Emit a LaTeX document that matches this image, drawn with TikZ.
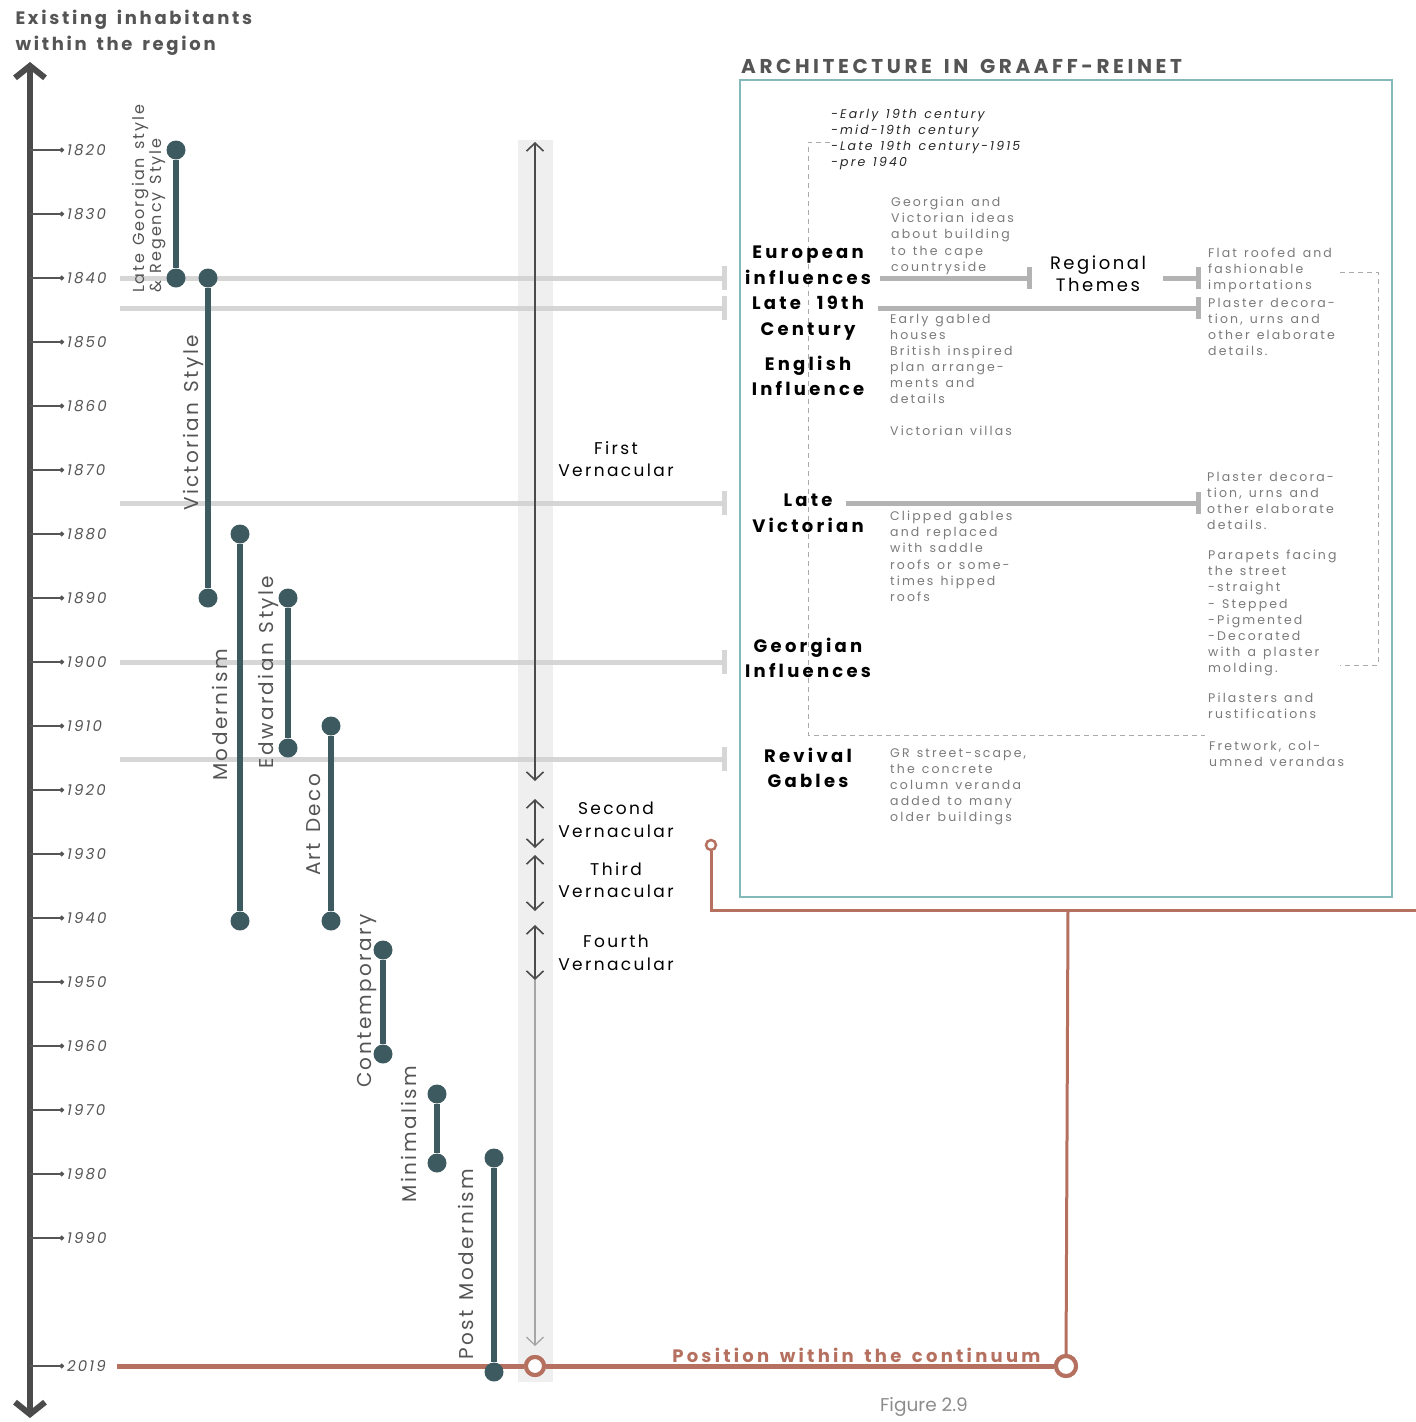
\documentclass[tikz,border=0pt]{standalone}
\usepackage{fontspec}
\setmainfont{Poppins}
\newfontfamily\spacedfont[LetterSpace=14,WordSpace=1.3]{Poppins}
\newfontfamily\notefont[LetterSpace=17,WordSpace=1.3]{Poppins}
\newfontfamily\headfont[LetterSpace=18,WordSpace=1.4]{Poppins}
\newfontfamily\stylefont[LetterSpace=12,WordSpace=1.3]{Poppins}
\newfontfamily\titlefont[LetterSpace=15,WordSpace=1.5]{Poppins}
\newfontfamily\widefont[LetterSpace=18,WordSpace=1.5]{Poppins}
\usetikzlibrary{arrows.meta}
\definecolor{axisgrey}{HTML}{4B4B4B}
\definecolor{labelgrey}{HTML}{555555}
\definecolor{notegrey}{HTML}{7A7A7A}
\definecolor{bandgrey}{HTML}{D2D2D2}
\definecolor{linkgrey}{HTML}{B3B3B3}
\definecolor{colgrey}{HTML}{EFEFEF}
\definecolor{dashgrey}{HTML}{AAAAAA}
\definecolor{styleteal}{HTML}{3E5A61}
\definecolor{brick}{HTML}{B5705F}
\definecolor{panelteal}{HTML}{84B9B9}
\tikzset{
  year/.style={anchor=west, inner sep=3pt, text=labelgrey, font=\spacedfont\itshape\fontsize{15}{18}\selectfont},
  tick/.style={line width=1.4pt, labelgrey, -{Circle[length=4.5pt]}},
  dot/.style={circle, fill=styleteal, minimum size=19pt, inner sep=0pt},
  span/.style={line width=5.5pt, styleteal},
  stylename/.style={rotate=90, text=labelgrey, font=\stylefont\fontsize{20}{17}\selectfont},
  band/.style={line width=5pt, bandgrey, -{Bar[width=24pt]}},
  era/.style={line width=1.6pt, axisgrey, {Straight Barb[length=8pt,width=17pt]}-{Straight Barb[length=8pt,width=17pt]}},
  vern/.style={align=center, font=\spacedfont\fontsize{17}{22.5}\selectfont},
  head/.style={align=center, font=\headfont\bfseries\fontsize{18}{25.5}\selectfont},
  note/.style={anchor=north west, inner sep=0pt, align=left, text=notegrey, font=\notefont\fontsize{12.5}{16.1}\selectfont},
  link/.style={line width=5pt, linkgrey, -{Bar[width=22pt]}},
  bracket/.style={dashgrey, line width=0.9pt, dash pattern=on 5pt off 4pt},
  ring/.style={circle, draw=brick, fill=white, line width=4pt, minimum size=18pt, inner sep=0pt},
  redline/.style={brick, line width=5pt}
}
\begin{document}
\begin{tikzpicture}[x=1pt,y=-1pt]
  \useasboundingbox (0,0) rectangle (1416,1422);
  \node[anchor=west, align=left, text=labelgrey, font=\titlefont\bfseries\fontsize{18}{26}\selectfont] (inhab) at (12,33) {Existing inhabitants\\within the region};
  \coordinate (axtop) at (30,62);
  \coordinate (axbot) at (30,1418);
  \draw[axisgrey, line width=6pt, {Straight Barb[length=12pt,width=30pt]}-{Straight Barb[length=12pt,width=30pt]}] (axbot) -- (axtop);
  \draw
    (64,150) node[year] (y1820){1820}
    (64,214) node[year] (y1830){1830}
    (64,278) node[year] (y1840){1840}
    (64,342) node[year] (y1850){1850}
    (64,406) node[year] (y1860){1860}
    (64,470) node[year] (y1870){1870}
    (64,534) node[year] (y1880){1880}
    (64,598) node[year] (y1890){1890}
    (64,662) node[year] (y1900){1900}
    (64,726) node[year] (y1910){1910}
    (64,790) node[year] (y1920){1920}
    (64,854) node[year] (y1930){1930}
    (64,918) node[year] (y1940){1940}
    (64,982) node[year] (y1950){1950}
    (64,1046) node[year] (y1960){1960}
    (64,1110) node[year] (y1970){1970}
    (64,1174) node[year] (y1980){1980}
    (64,1238) node[year] (y1990){1990}
    (64,1366) node[year] (y2019){2019};
  \begin{scope}[tick]
    \draw (axtop |- y1820.west) -- (y1820.west);
    \draw (axtop |- y1830.west) -- (y1830.west);
    \draw (axtop |- y1840.west) -- (y1840.west);
    \draw (axtop |- y1850.west) -- (y1850.west);
    \draw (axtop |- y1860.west) -- (y1860.west);
    \draw (axtop |- y1870.west) -- (y1870.west);
    \draw (axtop |- y1880.west) -- (y1880.west);
    \draw (axtop |- y1890.west) -- (y1890.west);
    \draw (axtop |- y1900.west) -- (y1900.west);
    \draw (axtop |- y1910.west) -- (y1910.west);
    \draw (axtop |- y1920.west) -- (y1920.west);
    \draw (axtop |- y1930.west) -- (y1930.west);
    \draw (axtop |- y1940.west) -- (y1940.west);
    \draw (axtop |- y1950.west) -- (y1950.west);
    \draw (axtop |- y1960.west) -- (y1960.west);
    \draw (axtop |- y1970.west) -- (y1970.west);
    \draw (axtop |- y1980.west) -- (y1980.west);
    \draw (axtop |- y1990.west) -- (y1990.west);
    \draw (axtop |- y2019.west) -- (y2019.west);
  \end{scope}
  \fill[colgrey] (518,140) rectangle (553,1382);
  \coordinate (b1a) at (120,278); \coordinate (b1b) at (727,278);
  \coordinate (b2a) at (120,308); \coordinate (b2b) at (727,308);
  \coordinate (b3a) at (120,503); \coordinate (b3b) at (727,503);
  \coordinate (b4a) at (120,662); \coordinate (b4b) at (727,662);
  \coordinate (b5a) at (120,759); \coordinate (b5b) at (727,759);
  \begin{scope}[band, opacity=0.9]
    \draw (b1a) -- (b1b);
    \draw (b2a) -- (b2b);
    \draw (b3a) -- (b3b);
    \draw (b4a) -- (b4b);
    \draw (b5a) -- (b5b);
  \end{scope}
  \coordinate (v1a) at (535,142); \coordinate (v1b) at (535,781);
  \coordinate (v2a) at (535,799); \coordinate (v2b) at (535,848);
  \coordinate (v3a) at (535,855); \coordinate (v3b) at (535,911);
  \coordinate (v4a) at (535,925); \coordinate (v4b) at (535,980);
  \coordinate (v5b) at (535,1346);
  \draw[era] (v1a) -- (v1b);
  \draw[era] (v2a) -- (v2b);
  \draw[era] (v3a) -- (v3b);
  \draw[era] (v4a) -- (v4b);
  \draw[line width=1.3pt, gray!70, -{Straight Barb[length=8pt,width=17pt]}] (v4b) -- (v5b);
  \node[vern] (first) at (616,459) {First\\Vernacular};
  \node[vern] (second) at (616,820) {Second\\Vernacular};
  \node[vern] (third) at (616,880) {Third\\Vernacular};
  \node[vern] (fourth) at (616,953) {Fourth\\Vernacular};
  \coordinate (redstart) at (117,1366);
  \node[ring] (now) at (535,1366) {};
  \node[ring, minimum size=20pt] (pos) at (1066,1366) {};
  \node[ring, minimum size=10pt, line width=2.5pt] (link) at (711,845) {};
  \coordinate (rjoin) at (1068,910);
  \coordinate (redend) at (1416,910);
  \draw[redline] (redstart) -- (now) -- (pos);
  \draw[brick, line width=3pt] (link) |- (redend);
  \draw[brick, line width=3pt] (rjoin) -- (pos);
  \node[ring] at (535,1366) {};
  \node[ring, minimum size=20pt] at (1066,1366) {};
  \node[anchor=east, text=brick, font=\widefont\bfseries\fontsize{18}{22}\selectfont] (continuum) at (1044,1355) {Position within the continuum};
  \draw
    (176,150) node[dot] (lg1){}
    (176,278) node[dot] (lg2){}
    (208,278) node[dot] (vi1){}
    (208,598) node[dot] (vi2){}
    (240,534) node[dot] (mo1){}
    (240,921) node[dot] (mo2){}
    (288,598) node[dot] (ed1){}
    (288,748) node[dot] (ed2){}
    (331,726) node[dot] (ad1){}
    (331,921) node[dot] (ad2){}
    (383,950) node[dot] (co1){}
    (383,1054) node[dot] (co2){}
    (437,1094) node[dot] (mi1){}
    (437,1163) node[dot] (mi2){}
    (494,1158) node[dot] (pm1){}
    (494,1372) node[dot] (pm2){};
  \begin{scope}[span]
    \draw (lg1) -- (lg2);
    \draw (vi1) -- (vi2);
    \draw (mo1) -- (mo2);
    \draw (ed1) -- (ed2);
    \draw (ad1) -- (ad2);
    \draw (co1) -- (co2);
    \draw (mi1) -- (mi2);
    \draw (pm1) -- (pm2);
  \end{scope}
  \node[stylename, align=left, font=\stylefont\fontsize{16}{17}\selectfont] (lgname) at (149,199) {Late Georgian style\\\& Regency Style};
  \node[stylename] (viname) at (193,423) {Victorian Style};
  \node[stylename] (moname) at (220,715) {Modernism};
  \node[stylename] (edname) at (268,672) {Edwardian Style};
  \node[stylename] (adname) at (314,825) {Art Deco};
  \node[stylename] (coname) at (367,1001) {Contemporary};
  \node[stylename] (miname) at (409,1134) {Minimalism};
  \node[stylename] (pmname) at (466,1264) {Post Modernism};
  \draw[panelteal, line width=1.8pt] (740,80) rectangle (1392,897);
  \node[anchor=west, text=labelgrey, font=\widefont\bfseries\fontsize{20}{24}\selectfont, inner sep=0pt] (archtitle) at (741,66) {ARCHITECTURE IN GRAAFF-REINET};
  \coordinate (d1) at (830,142); \coordinate (d2) at (808,142);
  \coordinate (d3) at (808,735); \coordinate (d4) at (1205,735);
  \coordinate (d5) at (1340,272); \coordinate (d6) at (1378,272);
  \coordinate (d7) at (1378,665); \coordinate (d8) at (1340,665);
  \draw[bracket] (d1) -- (d2) -- (d3) -- (d4);
  \draw[bracket] (d5) -- (d6) -- (d7) -- (d8);
  \node[note, text=black!85, font=\notefont\itshape\fontsize{12.5}{16}\selectfont] (periods) at (831,109) {-Early 19th century\\-mid-19th century\\-Late 19th century-1915\\-pre 1940};
  \node[head] (european) at (808,265) {European\\influences};
  \node[head] (late19) at (808,318) {Late 19th\\Century};
  \node[head] (english) at (808,376) {English\\Influence};
  \node[head] (latevic) at (808,513) {Late\\Victorian};
  \node[head] (georgian) at (808,658) {Georgian\\Influences};
  \node[head] (revival) at (808,768) {Revival\\Gables};
  \node[vern, font=\spacedfont\fontsize{18}{22}\selectfont] (regional) at (1098,274) {Regional\\Themes};
  \node[note] (ideas) at (891,197) {Georgian and\\Victorian ideas\\about building\\to the cape\\countryside};
  \node[note] (gabled) at (890,314) {Early gabled\\houses\\British inspired\\plan arrange-\\ments and\\details};
  \node[note] (villas) at (890,426) {Victorian villas};
  \node[note] (clipped) at (890,511) {Clipped gables\\and replaced\\with saddle\\roofs or some-\\times hipped\\roofs};
  \node[note] (street) at (890,748) {GR street-scape,\\the concrete\\column veranda\\added to many\\older buildings};
  \node[note] (flat) at (1208,248) {Flat roofed and\\fashionable\\importations};
  \node[note] (plaster) at (1208,298) {Plaster decora-\\tion, urns and\\other elaborate\\details.};
  \node[note] (plaster2) at (1207,472) {Plaster decora-\\tion, urns and\\other elaborate\\details.};
  \node[note] (parapets) at (1208,550) {Parapets facing\\the street\\-straight\\- Stepped\\-Pigmented\\-Decorated\\with a plaster\\molding.};
  \node[note] (pilasters) at (1208,693) {Pilasters and\\rustifications};
  \node[note] (fretwork) at (1209,741) {Fretwork, col-\\umned verandas};
  \coordinate (l1a) at (880,278); \coordinate (l1b) at (1032,278);
  \coordinate (l2a) at (1163,278); \coordinate (l2b) at (1201,278);
  \coordinate (l3a) at (878,308); \coordinate (l3b) at (1201,308);
  \coordinate (l4a) at (846,503); \coordinate (l4b) at (1201,503);
  \begin{scope}[link]
    \draw (l1a) -- (l1b);
    \draw (l2a) -- (l2b);
    \draw (l3a) -- (l3b);
    \draw (l4a) -- (l4b);
  \end{scope}
  \node[text=gray!90, font=\fontsize{18.5}{22}\selectfont] (figure) at (924,1407) {Figure 2.9};
\end{tikzpicture}
\end{document}
